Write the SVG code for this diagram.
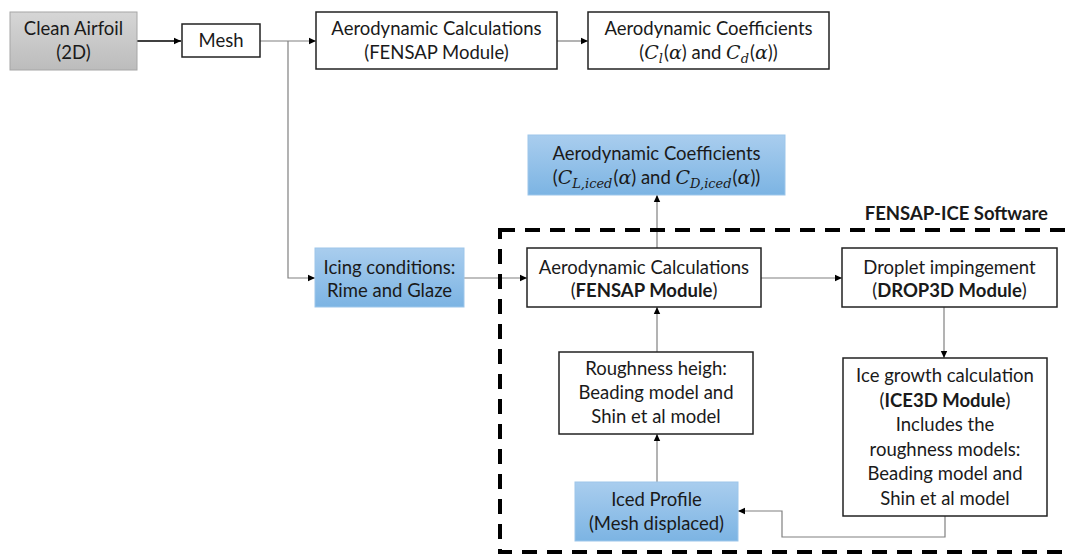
<svg xmlns="http://www.w3.org/2000/svg" width="1066" height="557" viewBox="0 0 1066 557">
<defs>
<linearGradient id="gGray" x1="0" y1="0" x2="0" y2="1"><stop offset="0" stop-color="#d6d6d6"/><stop offset="1" stop-color="#bcbcbc"/></linearGradient>
<linearGradient id="gBlue" x1="0" y1="0" x2="0" y2="1"><stop offset="0" stop-color="#a9cdee"/><stop offset="1" stop-color="#7cb4e3"/></linearGradient>
<marker id="arr" markerWidth="8" markerHeight="8" refX="7" refY="4" orient="auto" markerUnits="userSpaceOnUse"><path d="M0,0.8 L7,4 L0,7.2 Z" fill="#000"/></marker>
<style>
.t{font-family:Lato,"Open Sans",sans-serif;font-size:18.5px;fill:#1a1a1a;text-anchor:middle}
.b{font-weight:bold}
.m{font-family:"DejaVu Serif","Liberation Serif",serif;font-style:italic;font-size:19px}
.s{font-family:"DejaVu Serif","Liberation Serif",serif;font-style:italic;font-size:13px}
.w{fill:#fff;stroke:#222;stroke-width:1.5}
.gr{fill:url(#gGray);stroke:#a6a6a6;stroke-width:1}
.bl{fill:url(#gBlue);stroke:#9dc6ea;stroke-width:1}
.c{fill:none;stroke:#808080;stroke-width:1.2}
</style>
</defs>
<g id="connectors">
<line x1="137" y1="41" x2="181" y2="41" stroke="#000" stroke-width="1.6" marker-end="url(#arr)"/>
<polyline class="c" points="260,41 316,41" marker-end="url(#arr)"/>
<polyline class="c" points="288,41 288,278 315,278" marker-end="url(#arr)"/>
<line class="c" x1="557" y1="41" x2="588" y2="41" marker-end="url(#arr)"/>
<line class="c" x1="464" y1="278" x2="527" y2="278" marker-end="url(#arr)"/>
<line class="c" x1="657" y1="248" x2="657" y2="195" marker-end="url(#arr)"/>
<line class="c" x1="761" y1="278" x2="842" y2="278" marker-end="url(#arr)"/>
<line class="c" x1="944" y1="307" x2="944" y2="358" marker-end="url(#arr)"/>
<polyline class="c" points="945,516 945,537 782,537 782,511 738,511" marker-end="url(#arr)"/>
<line class="c" x1="657" y1="482" x2="657" y2="434" marker-end="url(#arr)"/>
<line class="c" x1="657" y1="352" x2="657" y2="307" marker-end="url(#arr)"/>
</g>
<g id="fensap-ice-boundary">
<rect x="500" y="230" width="620" height="322" fill="none" stroke="#000" stroke-width="4" stroke-dasharray="15 10"/>
<text class="t b" x="1048" y="220" style="text-anchor:end">FENSAP-ICE Software</text>
</g>
<g id="clean-airfoil">
<rect class="gr" x="10" y="12" width="127" height="58"/>
<text class="t" x="73.5" y="35">Clean Airfoil</text>
<text class="t" x="73.5" y="59">(2D)</text>
</g>
<g id="mesh">
<rect class="w" x="182" y="24" width="78" height="33"/>
<text class="t" x="221" y="47">Mesh</text>
</g>
<g id="aero-calc-clean">
<rect class="w" x="316" y="12" width="241" height="57"/>
<text class="t" x="436.5" y="35">Aerodynamic Calculations</text>
<text class="t" x="436.5" y="59">(FENSAP Module)</text>
</g>
<g id="aero-coef-clean">
<rect class="w" x="588" y="12" width="241" height="57"/>
<text class="t" x="708.5" y="35">Aerodynamic Coefficients</text>
<text class="t" x="708.5" y="59">(<tspan class="m">C</tspan><tspan class="s" dy="4">l</tspan><tspan dy="-4" dx="1">(</tspan><tspan class="m">α</tspan>) and <tspan class="m">C</tspan><tspan class="s" dy="4">d</tspan><tspan dy="-4" dx="1">(</tspan><tspan class="m">α</tspan>))</text>
</g>
<g id="aero-coef-iced">
<rect class="bl" x="528" y="135" width="257" height="60"/>
<text class="t" x="656.5" y="160">Aerodynamic Coefficients</text>
<text class="t" x="656.5" y="184">(<tspan class="m">C</tspan><tspan class="s" dy="4">L,iced</tspan><tspan dy="-4" dx="1">(</tspan><tspan class="m">α</tspan>) and <tspan class="m">C</tspan><tspan class="s" dy="4">D,iced</tspan><tspan dy="-4" dx="1">(</tspan><tspan class="m">α</tspan>))</text>
</g>
<g id="icing-conditions">
<rect class="bl" x="315" y="248" width="149" height="59"/>
<text class="t" x="389.5" y="274">Icing conditions:</text>
<text class="t" x="389.5" y="297">Rime and Glaze</text>
</g>
<g id="aero-calc-iced">
<rect class="w" x="527" y="248" width="234" height="59"/>
<text class="t" x="644" y="274">Aerodynamic Calculations</text>
<text class="t" x="644" y="297">(<tspan class="b">FENSAP Module</tspan>)</text>
</g>
<g id="droplet">
<rect class="w" x="842" y="248" width="215" height="59"/>
<text class="t" x="949.5" y="274">Droplet impingement</text>
<text class="t" x="949.5" y="297">(<tspan class="b">DROP3D Module</tspan>)</text>
</g>
<g id="ice-growth">
<rect class="w" x="843" y="358" width="204" height="158"/>
<text class="t" x="945" y="382">Ice growth calculation</text>
<text class="t" x="945" y="406.5">(<tspan class="b">ICE3D Module</tspan>)</text>
<text class="t" x="945" y="431">Includes the</text>
<text class="t" x="945" y="455.5">roughness models:</text>
<text class="t" x="945" y="480">Beading model and</text>
<text class="t" x="945" y="504.5">Shin et al model</text>
</g>
<g id="roughness">
<rect class="w" x="559" y="352" width="194" height="82"/>
<text class="t" x="656" y="375">Roughness heigh:</text>
<text class="t" x="656" y="399">Beading model and</text>
<text class="t" x="656" y="423">Shin et al model</text>
</g>
<g id="iced-profile">
<rect class="bl" x="575" y="482" width="163" height="59"/>
<text class="t" x="656.5" y="506">Iced Profile</text>
<text class="t" x="656.5" y="530">(Mesh displaced)</text>
</g>
</svg>
